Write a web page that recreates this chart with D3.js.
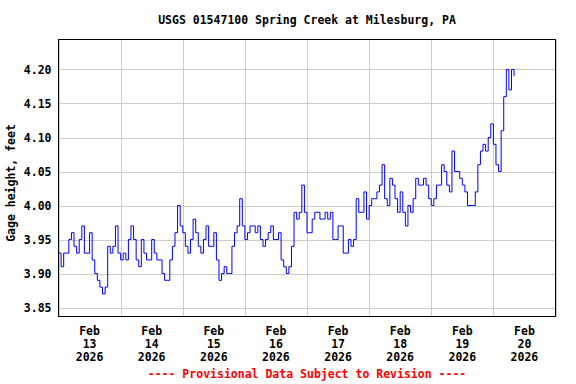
<!DOCTYPE html>
<html>
<head>
<meta charset="utf-8">
<script src="https://cdn.jsdelivr.net/npm/d3@7"></script>
<style>
  body { margin: 0; background: #fff; }
  svg text { font-family: "DejaVu Sans Mono", monospace; font-weight: bold; }
</style>
</head>
<body>
<div id="chart"></div>
<script>
// hourly gage height readings, starting Feb 13 2026 00:00
var startTime = new Date(2026, 1, 13, 0, 0);
var gageHeight = [
  3.93, 3.91, 3.93, 3.93, 3.95, 3.96, 3.94, 3.93, 3.95, 3.97, 3.93, 3.93,
  3.96, 3.92, 3.90, 3.89, 3.88, 3.87, 3.88, 3.94, 3.93, 3.94, 3.97, 3.93,
  3.92, 3.93, 3.92, 3.95, 3.97, 3.95, 3.92, 3.91, 3.95, 3.93, 3.92, 3.92,
  3.95, 3.93, 3.92, 3.92, 3.90, 3.89, 3.89, 3.92, 3.94, 3.96, 4.00, 3.97,
  3.96, 3.94, 3.93, 3.95, 3.98, 3.96, 3.94, 3.93, 3.95, 3.97, 3.94, 3.94,
  3.96, 3.92, 3.89, 3.90, 3.91, 3.90, 3.90, 3.94, 3.96, 3.97, 4.01, 3.97,
  3.95, 3.96, 3.97, 3.97, 3.96, 3.97, 3.95, 3.94, 3.95, 3.96, 3.97, 3.95,
  3.95, 3.96, 3.92, 3.91, 3.90, 3.91, 3.94, 3.99, 3.98, 3.99, 4.03, 3.99,
  3.96, 3.96, 3.98, 3.99, 3.99, 3.98, 3.98, 3.99, 3.98, 3.99, 3.95, 3.95,
  3.97, 3.97, 3.93, 3.93, 3.95, 3.94, 3.95, 4.01, 3.99, 3.99, 4.02, 3.98,
  4.00, 4.01, 4.01, 4.02, 4.03, 4.06, 4.01, 4.00, 4.04, 4.03, 4.01, 3.99,
  4.02, 3.99, 3.97, 4.00, 3.99, 4.01, 4.04, 4.03, 4.03, 4.04, 4.03, 4.01,
  4.00, 4.01, 4.03, 4.03, 4.06, 4.05, 4.03, 4.02, 4.08, 4.05, 4.05, 4.04,
  4.03, 4.02, 4.00, 4.00, 4.00, 4.02, 4.06, 4.08, 4.09, 4.08, 4.10, 4.12,
  4.09, 4.06, 4.05, 4.11, 4.16, 4.20, 4.17, 4.20, 4.19
];
var yTicks = [3.85, 3.90, 3.95, 4.00, 4.05, 4.10, 4.15, 4.20];
var dayLabels = ["13", "14", "15", "16", "17", "18", "19", "20"];
var monthLabel = "Feb";
var yearLabel = "2026";
var title = "USGS 01547100 Spring Creek at Milesburg, PA";
var yTitle = "Gage height, feet";
var footer = "---- Provisional Data Subject to Revision ----";

var margin = {top: 39.5, right: 20.5, bottom: 67.5, left: 58.5};
var fullWidth = 576, fullHeight = 384;
var width = fullWidth - margin.left - margin.right;
var height = fullHeight - margin.top - margin.bottom;

var data = gageHeight.map(function(v, i) {
  return {t: d3.timeHour.offset(startTime, i), v: v};
});

var x = d3.scaleTime()
    .domain([startTime, d3.timeDay.offset(startTime, 8)])
    .range([0, width]);
var y = d3.scaleLinear()
    .domain([3.8368, 4.2441])
    .range([height, 0]);

var svg = d3.select("#chart").append("svg")
    .attr("width", fullWidth)
    .attr("height", fullHeight);

var g = svg.append("g")
    .attr("transform", "translate(" + margin.left + "," + margin.top + ")");

// grid lines
g.append("g")
    .attr("class", "xgrid")
    .attr("transform", "translate(0," + height + ")")
    .call(d3.axisBottom(x).ticks(d3.timeDay.every(1)).tickSize(-height).tickFormat(""))
    .call(function(s) { s.select(".domain").remove(); })
    .selectAll("line")
    .attr("stroke", "#cccccc")
    .attr("shape-rendering", "crispEdges");

g.append("g")
    .attr("class", "ygrid")
    .call(d3.axisLeft(y).tickValues(yTicks).tickSize(-width).tickFormat(""))
    .call(function(s) { s.select(".domain").remove(); })
    .selectAll("line")
    .attr("stroke", "#cccccc")
    .attr("shape-rendering", "crispEdges");

// y tick labels
var yAxis = g.append("g")
    .call(d3.axisLeft(y).tickValues(yTicks).tickSize(0).tickPadding(7).tickFormat(d3.format(".2f")));
yAxis.select(".domain").remove();
yAxis.selectAll("text")
    .attr("font-size", "11.5px")
    .attr("fill", "#000");

// x tick labels at noon of each day
var noons = dayLabels.map(function(d, i) {
  return d3.timeHour.offset(d3.timeDay.offset(startTime, i), 12);
});
var xLab = g.selectAll(".xlab")
    .data(noons)
    .enter().append("text")
    .attr("class", "xlab")
    .attr("text-anchor", "middle")
    .attr("font-size", "11.5px")
    .attr("x", function(d) { return x(d); })
    .attr("y", height + 18);
xLab.append("tspan").attr("x", function(d) { return x(d); }).text(monthLabel);
xLab.append("tspan").attr("x", function(d) { return x(d); }).attr("dy", 13).text(function(d, i) { return dayLabels[i]; });
xLab.append("tspan").attr("x", function(d) { return x(d); }).attr("dy", 13).text(yearLabel);

// data line
var line = d3.line()
    .x(function(d) { return x(d.t); })
    .y(function(d) { return y(d.v); })
    .curve(d3.curveStepAfter);

g.append("path")
    .datum(data)
    .attr("fill", "none")
    .attr("stroke", "#0000ff")
    .attr("stroke-width", 1)
    .attr("d", line);

// frame
g.append("rect")
    .attr("width", width)
    .attr("height", height)
    .attr("fill", "none")
    .attr("stroke", "#000")
    .attr("shape-rendering", "crispEdges");

svg.append("text")
    .attr("x", margin.left + width / 2)
    .attr("y", 24)
    .attr("text-anchor", "middle")
    .attr("font-size", "11.5px")
    .text(title);

svg.append("text")
    .attr("transform", "translate(15," + 183 + ") rotate(-90)")
    .attr("text-anchor", "middle")
    .attr("font-size", "11.5px")
    .text(yTitle);

svg.append("text")
    .attr("x", margin.left + width / 2)
    .attr("y", 378)
    .attr("text-anchor", "middle")
    .attr("font-size", "11.5px")
    .attr("fill", "#ff0000")
    .text(footer);
</script>
</body>
</html>
